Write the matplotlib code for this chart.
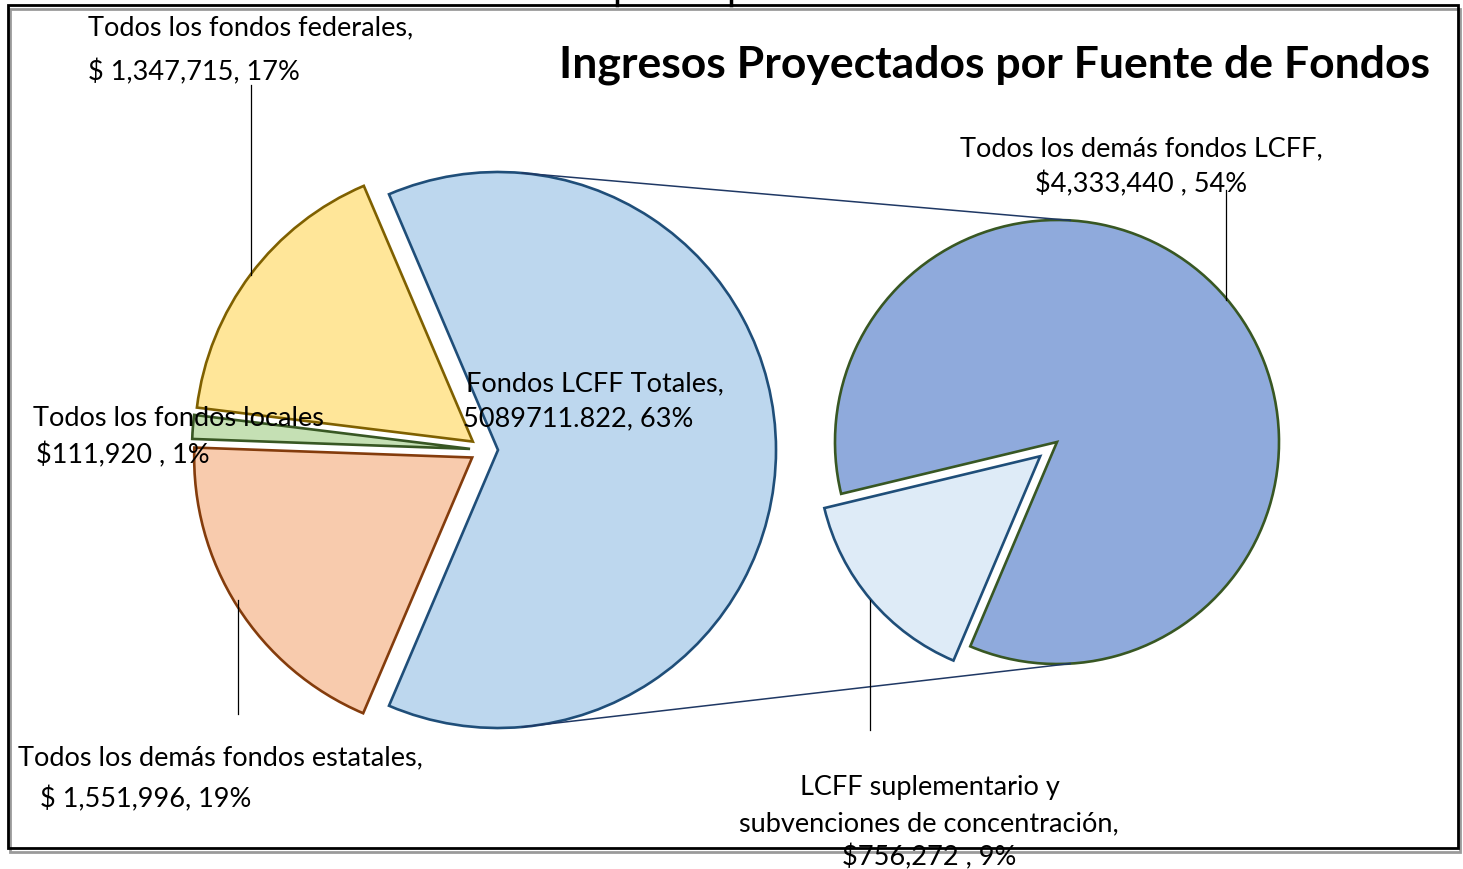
import matplotlib.pyplot as plt
import numpy as np

# main pie: LCFF total, federal, local, other state
main_names = ["Fondos LCFF Totales", "Todos los fondos federales",
              "Todos los fondos locales", "Todos los demás fondos estatales"]
main_values = [5089711.822, 1347715, 111920, 1551996]
main_colors = ["#BDD7EE", "#FFE699", "#C5E0B4", "#F8CBAD"]
main_edges = ["#1F4E79", "#7F6000", "#385723", "#843C0C"]

# secondary pie: split of LCFF
sub_names = ["Todos los demás fondos LCFF",
             "LCFF suplementario y subvenciones de concentración"]
sub_values = [4333440, 756272]
sub_colors = ["#8FAADC", "#DEEBF7"]
sub_edges = ["#385723", "#1F4E79"]

H = 869
plt.rcParams['font.family'] = ['Lato', 'DejaVu Sans']

fig = plt.figure(figsize=(14.63, 8.69), dpi=100)
ax = fig.add_axes([0, 0, 1, 1])


def Y(y):
    return H - y


# left pie
lc = (484, Y(450))
lr = 278
lcff_angle = 360 * main_values[0] / sum(main_values)
ax.pie(main_values, center=lc, radius=lr, colors=main_colors,
       startangle=-lcff_angle / 2, explode=[14, 14, 14, 14],
       wedgeprops=dict(linewidth=1.9), normalize=True)
for w, ec in zip(ax.patches, main_edges):
    w.set_edgecolor(ec)
n_left = len(ax.patches)

# right pie
rc = (1057, Y(442))
rr = 222
ax.pie(sub_values, center=rc, radius=rr, colors=sub_colors,
       startangle=-113, explode=[0, 22],
       wedgeprops=dict(linewidth=1.9), normalize=True)
for w, ec in zip(ax.patches[n_left:], sub_edges):
    w.set_edgecolor(ec)

# connector lines between the LCFF slice and the second pie
lx = lc[0] + 14
for a1, a2 in [(85, 86.6), (-85, -86.6)]:
    x1 = lx + lr * np.cos(np.radians(a1))
    y1 = lc[1] + lr * np.sin(np.radians(a1))
    x2 = rc[0] + rr * np.cos(np.radians(a2))
    y2 = rc[1] + rr * np.sin(np.radians(a2))
    ax.plot([x1, x2], [y1, y2], color="#1F3864", lw=1.1)

# leader lines
for x, y0, y1 in [(251, 85, 275), (238, 600, 714), (1226, 190, 300), (870, 600, 730)]:
    ax.plot([x, x], [Y(y0), Y(y1)], color="black", lw=0.9)

fs = 19.5
ax.text(88, Y(28), "Todos los fondos federales,", fontsize=fs, va='center')
ax.text(88, Y(72), "$ 1,347,715, 17%", fontsize=fs, va='center')
ax.text(33, Y(418), "Todos los fondos locales", fontsize=fs, va='center')
ax.text(36, Y(455), "$111,920 , 1%", fontsize=fs, va='center')
ax.text(18, Y(758), "Todos los demás fondos estatales,", fontsize=fs, va='center')
ax.text(40, Y(799), "$ 1,551,996, 19%", fontsize=fs, va='center')
ax.text(466, Y(384), "Fondos LCFF Totales,", fontsize=fs, va='center')
ax.text(463, Y(419), "5089711.822, 63%", fontsize=fs, va='center')
ax.text(1141, Y(149), "Todos los demás fondos LCFF,", fontsize=fs, va='center', ha='center')
ax.text(1141, Y(184), "$4,333,440 , 54%", fontsize=fs, va='center', ha='center')
ax.text(930, Y(788), "LCFF suplementario y", fontsize=fs, va='center', ha='center')
ax.text(929, Y(824), "subvenciones de concentración,", fontsize=fs, va='center', ha='center')
ax.text(929, Y(857), "$756,272 , 9%", fontsize=fs, va='center', ha='center')

ax.text(1430, Y(65), "Ingresos Proyectados por Fuente de Fondos", fontsize=32,
        fontweight='bold', va='center', ha='right')

# frame with shadow
ax.add_patch(plt.Rectangle((10, Y(852)), 1450, 843, fill=False, ec="#9a9a9a", lw=2.0))
ax.add_patch(plt.Rectangle((8, Y(848)), 1450, 843, fill=False, ec="black", lw=2.0))
for x in [617, 731]:
    ax.plot([x, x], [Y(0), Y(5)], color="black", lw=2.5)

ax.set_xlim(0, 1463)
ax.set_ylim(0, H)
ax.set_aspect('auto')
ax.axis('off')

plt.savefig("out.png", dpi=100)
